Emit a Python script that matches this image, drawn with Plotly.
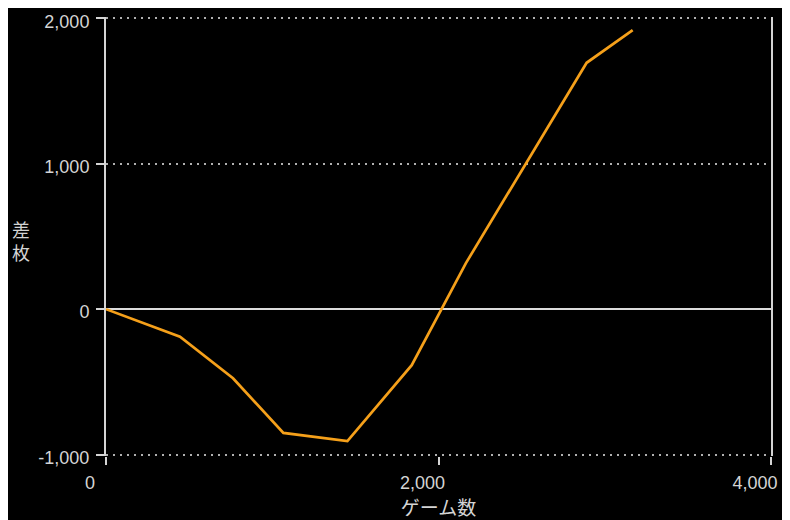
import plotly.graph_objects as go

games = [0, 445, 764, 1067, 1452, 1839, 2165, 2891, 3168]
diff = [0, -190, -475, -851, -908, -385, 317, 1695, 1920]

x_ticks = [0, 2000, 4000]
x_ticklabels = ["0", "2,000", "4,000"]
y_ticks = [-1000, 0, 1000, 2000]
y_ticklabels = ["-1,000", "0", "1,000", "2,000"]

num_font = dict(family="Liberation Sans, Arial, sans-serif", size=18, color="#d4d4d4")
jp_font = dict(family="Noto Sans CJK JP, sans-serif", size=19, color="#d4d4d4")

fig = go.Figure()
fig.add_trace(go.Scatter(
    x=games, y=diff, mode="lines",
    line=dict(color="#f5a01a", width=2.7),
    hoverinfo="skip", showlegend=False,
))

fig.update_layout(
    width=782, height=512,
    margin=dict(l=98, r=19, t=9, b=64, autoexpand=False),
    paper_bgcolor="#000000", plot_bgcolor="#000000",
    showlegend=False,
)

fig.update_xaxes(
    range=[0, 4000], tickvals=x_ticks, ticktext=x_ticklabels,
    showgrid=False, zeroline=False, showline=False,
    ticks="outside", ticklen=8, tickwidth=2, tickcolor="#d4d4d4",
    tickfont=num_font, ticklabelshift=-16, ticklabelstandoff=2,
    ticklabeloverflow="allow", automargin=False,
    title=dict(text="ゲーム数", font=jp_font, standoff=0),
)

fig.update_yaxes(
    range=[-1010, 2010], tickvals=y_ticks, ticktext=y_ticklabels,
    showgrid=True, gridcolor="#b0b0b0", gridwidth=2, griddash="2px,5px",
    zeroline=True, zerolinecolor="#dcdcdc", zerolinewidth=2,
    showline=True, linecolor="#d4d4d4", linewidth=2, mirror=True,
    ticks="outside", ticklen=8, tickwidth=2, tickcolor="#d4d4d4",
    tickfont=num_font, ticklabelstandoff=3, ticklabelshift=3,
    ticklabeloverflow="allow", automargin=False,
)

fig.add_annotation(
    text="差<br>枚", xref="paper", yref="paper", x=-0.128, y=0.49,
    xanchor="center", yanchor="middle", showarrow=False,
    font=dict(family="Noto Sans CJK JP, sans-serif", size=18, color="#d4d4d4"),
    align="center",
)

fig.write_html("out.html")
